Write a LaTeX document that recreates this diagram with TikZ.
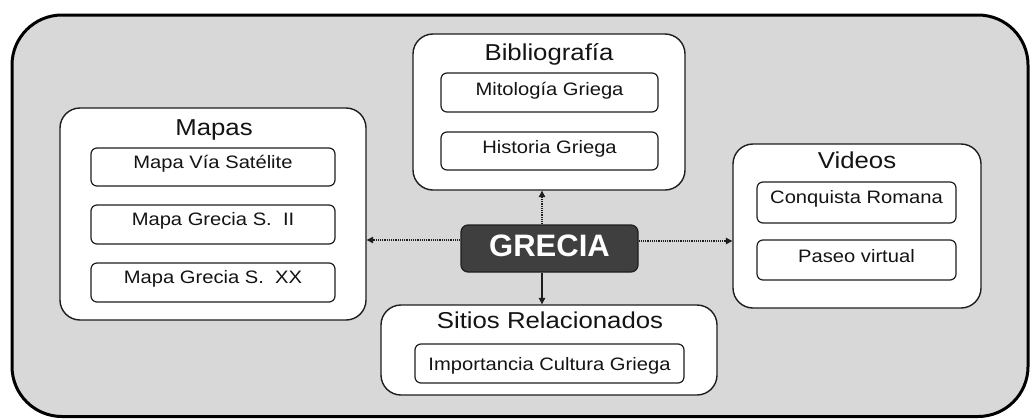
\documentclass[tikz,border=0pt]{standalone}
\usepackage{fontspec}
\setmainfont[FakeStretch=1.12]{Liberation Sans}
\newfontfamily\grfont{Liberation Sans}
\usetikzlibrary{arrows.meta}
\definecolor{bggray}{HTML}{D8D8D8}
\definecolor{darkbox}{HTML}{3F3F3F}
\definecolor{edge}{HTML}{1E1E1E}
\tikzset{
  groupbox/.style={draw=edge, line width=1.4pt, fill=white, rounded corners=20pt, inner sep=0pt},
  itembox/.style={draw=edge, line width=1.2pt, fill=white, rounded corners=6pt, inner sep=0pt},
  titletext/.style={anchor=base, inner sep=0pt, font=\fontsize{23}{26}\selectfont, text=black!92},
  itemtext/.style={anchor=base, inner sep=0pt, font=\fontsize{18}{20}\selectfont, text=black!92},
  centerbox/.style={draw=edge, line width=1.2pt, fill=darkbox, rounded corners=7pt, inner sep=0pt},
  link/.style={line width=1.1pt, draw=edge, -{Triangle[length=6.5pt,width=6.5pt]}},
  dottedlink/.style={link, dash pattern=on 1.2pt off 1pt}
}
\begin{document}
\begin{tikzpicture}[x=1pt,y=-1pt]
\useasboundingbox (0,0) rectangle (1030,418);
% outer frame
\draw[line width=3pt, draw=black, fill=bggray, rounded corners=50pt] (12,15) rectangle (1028,416.5);

% Bibliografia
\node[groupbox, minimum width=272pt, minimum height=156pt] (biblio) at (549,112) {};
\node[titletext] (bibliot) at (549,60) {Bibliografía};
\node[itembox, minimum width=217pt, minimum height=39pt] (mito) at (549.5,92.5) {};
\node[itemtext] (mitot) at (549.5,95) {Mitología Griega};
\node[itembox, minimum width=217pt, minimum height=38pt] (hist) at (549.5,151) {};
\node[itemtext] (histt) at (549.5,153) {Historia Griega};

% Mapas
\node[groupbox, minimum width=306pt, minimum height=212pt] (mapas) at (213,214) {};
\node[titletext] (mapast) at (214,135) {Mapas};
\node[itembox, minimum width=244pt, minimum height=38pt] (m1) at (213,167) {};
\node[itemtext] (m1t) at (213,168) {Mapa Vía Satélite};
\node[itembox, minimum width=244pt, minimum height=39pt] (m2) at (213,224.5) {};
\node[itemtext] (m2t) at (213,225) {Mapa Grecia S.\ \ II};
\node[itembox, minimum width=244pt, minimum height=39pt] (m3) at (213,282.5) {};
\node[itemtext] (m3t) at (213,283) {Mapa Grecia S.\ \ XX};

% Videos
\node[groupbox, minimum width=248pt, minimum height=164pt] (videos) at (857,226) {};
\node[titletext] (videost) at (857,168) {Videos};
\node[itembox, minimum width=199pt, minimum height=41pt] (v1) at (856.5,202.5) {};
\node[itemtext] (v1t) at (856.5,203) {Conquista Romana};
\node[itembox, minimum width=199pt, minimum height=40pt] (v2) at (856.5,260) {};
\node[itemtext] (v2t) at (856.5,262) {Paseo virtual};

% Sitios Relacionados
\node[groupbox, minimum width=336pt, minimum height=90pt] (sitios) at (549,350) {};
\node[titletext] (sitiost) at (550,328) {Sitios Relacionados};
\node[itembox, minimum width=269pt, minimum height=39pt] (s1) at (549.5,363.5) {};
\node[itemtext] (s1t) at (549.5,370) {Importancia Cultura Griega};

% GRECIA
\node[centerbox, minimum width=177pt, minimum height=47pt] (grecia) at (549.5,248.5) {};
\node[anchor=base, inner sep=0pt, text=white, font=\grfont\bfseries\fontsize{31}{34}\selectfont] (greciat) at (549.5,256) {GRECIA};

% connectors
\coordinate (vx) at (542,0);
\draw[dottedlink] (grecia.west |- 0,240) -- (mapas.east |- 0,240);
\draw[dottedlink] (grecia.east |- 0,241) -- (videos.west |- 0,241);
\draw[dottedlink] (grecia.north -| vx) -- (biblio.south -| vx);
\draw[link] (grecia.south -| vx) -- (sitios.north -| vx);
\end{tikzpicture}
\end{document}
